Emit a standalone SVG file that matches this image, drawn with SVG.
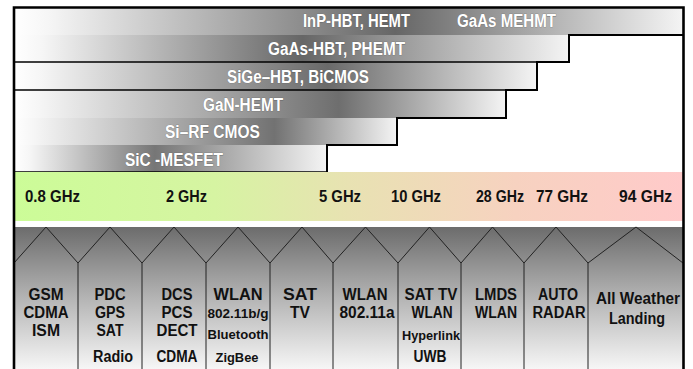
<svg xmlns="http://www.w3.org/2000/svg" width="693" height="369" viewBox="0 0 693 369">
<style>
.bt{font-family:"Liberation Sans",Arial,sans-serif;font-weight:bold;font-size:17.5px;fill:#ffffff;stroke:#555;stroke-width:0.7px;stroke-opacity:0.7;paint-order:stroke}
.ft{font-family:"Liberation Sans",Arial,sans-serif;font-weight:bold;font-size:17px;fill:#111}
.lt{font-family:"Liberation Sans",Arial,sans-serif;font-weight:bold;font-size:16px;fill:#111;text-anchor:middle}
.st{font-family:"Liberation Sans",Arial,sans-serif;font-weight:bold;font-size:13px;fill:#111;text-anchor:middle}
.sec{fill:none;stroke:#222;stroke-width:1}
.edge{fill:none;stroke:#000;stroke-width:2}
</style>
<defs>
<linearGradient id="g1" gradientUnits="userSpaceOnUse" x1="14" y1="0" x2="683" y2="0"><stop offset="0" stop-color="#ffffff"/><stop offset="0.05" stop-color="#f6f6f6"/><stop offset="0.57" stop-color="#666666"/><stop offset="1" stop-color="#f4f4f4"/></linearGradient>
<linearGradient id="g2" gradientUnits="userSpaceOnUse" x1="14" y1="0" x2="569" y2="0"><stop offset="0" stop-color="#ffffff"/><stop offset="0.05" stop-color="#f6f6f6"/><stop offset="0.52" stop-color="#666666"/><stop offset="1" stop-color="#f4f4f4"/></linearGradient>
<linearGradient id="g3" gradientUnits="userSpaceOnUse" x1="14" y1="0" x2="537" y2="0"><stop offset="0" stop-color="#ffffff"/><stop offset="0.05" stop-color="#f6f6f6"/><stop offset="0.6" stop-color="#6a6a6a"/><stop offset="1" stop-color="#f4f4f4"/></linearGradient>
<linearGradient id="g4" gradientUnits="userSpaceOnUse" x1="14" y1="0" x2="506" y2="0"><stop offset="0" stop-color="#ffffff"/><stop offset="0.05" stop-color="#f6f6f6"/><stop offset="0.66" stop-color="#6e6e6e"/><stop offset="1" stop-color="#f4f4f4"/></linearGradient>
<linearGradient id="g5" gradientUnits="userSpaceOnUse" x1="14" y1="0" x2="397" y2="0"><stop offset="0" stop-color="#ffffff"/><stop offset="0.05" stop-color="#f6f6f6"/><stop offset="0.68" stop-color="#727272"/><stop offset="1" stop-color="#f4f4f4"/></linearGradient>
<linearGradient id="g6" gradientUnits="userSpaceOnUse" x1="14" y1="0" x2="327" y2="0"><stop offset="0" stop-color="#ffffff"/><stop offset="0.05" stop-color="#f6f6f6"/><stop offset="0.45" stop-color="#767676"/><stop offset="1" stop-color="#f4f4f4"/></linearGradient>
<linearGradient id="gGreen" gradientUnits="userSpaceOnUse" x1="14" y1="0" x2="683" y2="0"><stop offset="0" stop-color="#ccfc98"/><stop offset="0.3" stop-color="#d6f4a2"/><stop offset="0.5" stop-color="#e8e2b2"/><stop offset="0.75" stop-color="#f7d2c0"/><stop offset="1" stop-color="#ffcaca"/></linearGradient>
<linearGradient id="gGray" gradientUnits="userSpaceOnUse" x1="0" y1="227" x2="0" y2="369"><stop offset="0" stop-color="#6c6c6c"/><stop offset="0.5" stop-color="#b4b4b4"/><stop offset="1" stop-color="#f6f6f6"/></linearGradient>
</defs>
<rect x="0" y="0" width="693" height="369" fill="#ffffff"/>

<g id="bar-inp">
<rect x="14" y="7" width="669" height="28" fill="url(#g1)"/>
<text class="bt" x="303" y="27" textLength="107" lengthAdjust="spacingAndGlyphs">InP-HBT, HEMT</text>
<text class="bt" x="457" y="27" textLength="99" lengthAdjust="spacingAndGlyphs">GaAs MEHMT</text>
</g>
<g id="bar-gaas">
<rect x="14" y="35" width="555" height="27" fill="url(#g2)"/>
<text class="bt" x="268" y="55" textLength="137" lengthAdjust="spacingAndGlyphs">GaAs-HBT, PHEMT</text>
</g>
<g id="bar-sige">
<rect x="14" y="62" width="523" height="28" fill="url(#g3)"/>
<text class="bt" x="227" y="83" textLength="142" lengthAdjust="spacingAndGlyphs">SiGe–HBT, BiCMOS</text>
</g>
<g id="bar-gan">
<rect x="14" y="90" width="492" height="28" fill="url(#g4)"/>
<text class="bt" x="203" y="111" textLength="80" lengthAdjust="spacingAndGlyphs">GaN-HEMT</text>
</g>
<g id="bar-si">
<rect x="14" y="118" width="383" height="27" fill="url(#g5)"/>
<text class="bt" x="165" y="138" textLength="95" lengthAdjust="spacingAndGlyphs">Si–RF CMOS</text>
</g>
<g id="bar-sic">
<rect x="14" y="145" width="313" height="27" fill="url(#g6)"/>
<text class="bt" x="125" y="166" textLength="98" lengthAdjust="spacingAndGlyphs">SiC -MESFET</text>
</g>

<g id="outlines">
<path class="edge" d="M683,35 H569 V62 H537 V90 H506 V118 H397 V145 H327 V172"/>
<line x1="14" y1="62" x2="569" y2="62" stroke="#000" stroke-width="1.5"/>
<line x1="14" y1="90" x2="537" y2="90" stroke="#000" stroke-width="1.5"/>
<line x1="14" y1="172" x2="327" y2="172" stroke="#000" stroke-width="1.5"/>
</g>

<g id="frequency-band">
<rect x="14" y="172" width="669" height="49" fill="url(#gGreen)"/>
<text class="ft" x="25" y="202" textLength="55" lengthAdjust="spacingAndGlyphs">0.8 GHz</text>
<text class="ft" x="166" y="202" textLength="41" lengthAdjust="spacingAndGlyphs">2 GHz</text>
<text class="ft" x="319" y="202" textLength="42" lengthAdjust="spacingAndGlyphs">5 GHz</text>
<text class="ft" x="391" y="202" textLength="50" lengthAdjust="spacingAndGlyphs">10 GHz</text>
<text class="ft" x="476" y="202" textLength="48" lengthAdjust="spacingAndGlyphs">28 GHz</text>
<text class="ft" x="536" y="202" textLength="52" lengthAdjust="spacingAndGlyphs">77 GHz</text>
<text class="ft" x="619" y="202" textLength="53" lengthAdjust="spacingAndGlyphs">94 GHz</text>
</g>

<rect id="app-background" x="14" y="227" width="669" height="142" fill="url(#gGray)"/>

<g id="app-1">
<polyline class="sec" points="14,263 46,227 78,263 78,370"/>
<text class="lt" x="46" y="300" textLength="35" lengthAdjust="spacingAndGlyphs">GSM</text>
<text class="lt" x="46" y="318" textLength="45" lengthAdjust="spacingAndGlyphs">CDMA</text>
<text class="lt" x="46" y="336" textLength="28" lengthAdjust="spacingAndGlyphs">ISM</text>
</g>
<g id="app-2">
<polyline class="sec" points="78,263 110,227 142,263 142,370"/>
<text class="lt" x="110" y="300" textLength="31" lengthAdjust="spacingAndGlyphs">PDC</text>
<text class="lt" x="110" y="318" textLength="30" lengthAdjust="spacingAndGlyphs">GPS</text>
<text class="lt" x="110" y="336" textLength="27" lengthAdjust="spacingAndGlyphs">SAT</text>
<text class="lt" x="113" y="362" textLength="40" lengthAdjust="spacingAndGlyphs">Radio</text>
</g>
<g id="app-3">
<polyline class="sec" points="142,263 174,227 206,263 206,370"/>
<text class="lt" x="177" y="300" textLength="31" lengthAdjust="spacingAndGlyphs">DCS</text>
<text class="lt" x="177" y="318" textLength="31" lengthAdjust="spacingAndGlyphs">PCS</text>
<text class="lt" x="177" y="336" textLength="41" lengthAdjust="spacingAndGlyphs">DECT</text>
<text class="lt" x="177" y="362" textLength="41" lengthAdjust="spacingAndGlyphs">CDMA</text>
</g>
<g id="app-4">
<polyline class="sec" points="206,263 238,227 270,263 270,370"/>
<text class="lt" x="238" y="300" textLength="49" lengthAdjust="spacingAndGlyphs">WLAN</text>
<text class="st" x="238" y="318" textLength="61" lengthAdjust="spacingAndGlyphs">802.11b/g</text>
<text class="st" x="238" y="339" textLength="61" lengthAdjust="spacingAndGlyphs">Bluetooth</text>
<text class="st" x="237" y="362" textLength="43" lengthAdjust="spacingAndGlyphs">ZigBee</text>
</g>
<g id="app-5">
<polyline class="sec" points="270,263 302,227 333,263 333,370"/>
<text class="lt" x="300" y="300" textLength="34" lengthAdjust="spacingAndGlyphs">SAT</text>
<text class="lt" x="300" y="318" textLength="20" lengthAdjust="spacingAndGlyphs">TV</text>
</g>
<g id="app-6">
<polyline class="sec" points="333,263 365.5,227 398,263 398,370"/>
<text class="lt" x="365" y="300" textLength="45" lengthAdjust="spacingAndGlyphs">WLAN</text>
<text class="lt" x="367" y="318" textLength="55" lengthAdjust="spacingAndGlyphs">802.11a</text>
</g>
<g id="app-7">
<polyline class="sec" points="398,263 429.5,227 461,263 461,370"/>
<text class="lt" x="431" y="300" textLength="53" lengthAdjust="spacingAndGlyphs">SAT TV</text>
<text class="lt" x="432" y="318" textLength="41" lengthAdjust="spacingAndGlyphs">WLAN</text>
<text class="st" x="431" y="340" textLength="58" lengthAdjust="spacingAndGlyphs">Hyperlink</text>
<text class="lt" x="430" y="362" textLength="33" lengthAdjust="spacingAndGlyphs">UWB</text>
</g>
<g id="app-8">
<polyline class="sec" points="461,263 492.5,227 524,263 524,370"/>
<text class="lt" x="496" y="300" textLength="42" lengthAdjust="spacingAndGlyphs">LMDS</text>
<text class="lt" x="496" y="318" textLength="42" lengthAdjust="spacingAndGlyphs">WLAN</text>
</g>
<g id="app-9">
<polyline class="sec" points="524,263 556,227 588,263 588,370"/>
<text class="lt" x="558" y="300" textLength="40" lengthAdjust="spacingAndGlyphs">AUTO</text>
<text class="lt" x="559" y="318" textLength="53" lengthAdjust="spacingAndGlyphs">RADAR</text>
</g>
<g id="app-10">
<polyline class="sec" points="588,263 636,227 683,263"/>
<text class="lt" x="638" y="304" textLength="84" lengthAdjust="spacingAndGlyphs">All Weather</text>
<text class="lt" x="637" y="324" textLength="56" lengthAdjust="spacingAndGlyphs">Landing</text>
</g>

<g id="frame">
<path d="M14,369 V7.5 H683.5 V369" fill="none" stroke="#000" stroke-width="2.6"/>
</g>
</svg>
